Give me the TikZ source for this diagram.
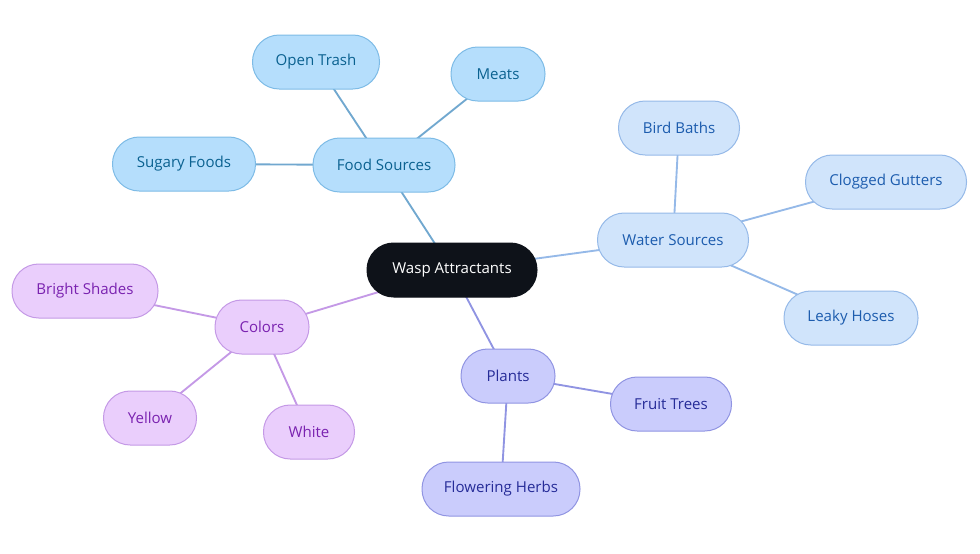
\documentclass[tikz,border=0pt]{standalone}
\usepackage{fontspec}
\setmainfont{Open Sans}
\usetikzlibrary{backgrounds}

\definecolor{rootfill}{HTML}{0E1219}
\definecolor{foodfill}{HTML}{B5DEFC}
\definecolor{fooddraw}{HTML}{7DBBE6}
\definecolor{foodtext}{HTML}{0A6190}
\definecolor{waterfill}{HTML}{D0E4FB}
\definecolor{waterdraw}{HTML}{95B9E8}
\definecolor{watertext}{HTML}{1C5CAE}
\definecolor{colfill}{HTML}{EACEFC}
\definecolor{coldraw}{HTML}{C499E6}
\definecolor{coltext}{HTML}{7A22B0}
\definecolor{plantfill}{HTML}{CACCFC}
\definecolor{plantdraw}{HTML}{9094E2}
\definecolor{planttext}{HTML}{262C98}

\tikzset{every picture/.style={line width=0.75pt}}
\tikzset{
  pill/.style={rounded corners=20pt, minimum height=40.5pt, inner sep=0pt,
    font=\fontsize{11.3}{13}\selectfont, line width=0.75pt},
  wd/.style={minimum width=#1*0.75pt},
  rootpill/.style={pill, fill=rootfill, draw=rootfill, text=white},
  foodpill/.style={pill, fill=foodfill, draw=fooddraw, text=foodtext},
  waterpill/.style={pill, fill=waterfill, draw=waterdraw, text=watertext},
  colpill/.style={pill, fill=colfill, draw=coldraw, text=coltext},
  plantpill/.style={pill, fill=plantfill, draw=plantdraw, text=planttext},
  foodline/.style={draw=fooddraw!90!black, line width=1.4pt},
  waterline/.style={draw=waterdraw, line width=1.4pt},
  colline/.style={draw=coldraw, line width=1.4pt},
  plantline/.style={draw=plantdraw, line width=1.4pt},
}

\begin{document}
\begin{tikzpicture}[x=0.75pt,y=0.75pt,yscale=-1,xscale=1]
	\useasboundingbox (0,0) rectangle (980,553);
	
	% Root
	\node [rootpill, wd=170] (wasp) at (452,270) {Wasp Attractants};
	
	% Food Sources
	\node [foodpill, wd=142] (food) at (384,165) {Food Sources};
	\node [foodpill, wd=127] (trash) at (316,62) {Open Trash};
	\node [foodpill, wd=94] (meats) at (498,74) {Meats};
	\node [foodpill, wd=143] (sugary) at (184,164) {Sugary Foods};
	
	% Water Sources
	\node [waterpill, wd=151] (water) at (673,240) {Water Sources};
	\node [waterpill, wd=121] (bird) at (679,128) {Bird Baths};
	\node [waterpill, wd=161] (gutters) at (886,182) {Clogged Gutters};
	\node [waterpill, wd=134] (hoses) at (851,318) {Leaky Hoses};
	
	% Colors
	\node [colpill, wd=94] (colors) at (262,327) {Colors};
	\node [colpill, wd=146] (bright) at (85,291) {Bright Shades};
	\node [colpill, wd=93] (yellow) at (150,418) {Yellow};
	\node [colpill, wd=91] (white) at (309,432) {White};
	
	% Plants
	\node [plantpill, wd=94] (plants) at (508,376) {Plants};
	\node [plantpill, wd=121] (fruit) at (671,404) {Fruit Trees};
	\node [plantpill, wd=158] (herbs) at (501,489) {Flowering Herbs};
	
	% Connectors
	\begin{pgfonlayer}{background}
		\draw [foodline] (wasp.center) -- (food.center);
		\draw [foodline] (food.center) -- (trash.center);
		\draw [foodline] (food.center) -- (meats.center);
		\draw [foodline] (food.center) -- (sugary.center);
		\draw [waterline] (wasp.center) -- (water.center);
		\draw [waterline] (water.center) -- (bird.center);
		\draw [waterline] (water.center) -- (gutters.center);
		\draw [waterline] (water.center) -- (hoses.center);
		\draw [colline] (wasp.center) -- (colors.center);
		\draw [colline] (colors.center) -- (bright.center);
		\draw [colline] (colors.center) -- (yellow.center);
		\draw [colline] (colors.center) -- (white.center);
		\draw [plantline] (wasp.center) -- (plants.center);
		\draw [plantline] (plants.center) -- (fruit.center);
		\draw [plantline] (plants.center) -- (herbs.center);
	\end{pgfonlayer}
	
\end{tikzpicture}
\end{document}
